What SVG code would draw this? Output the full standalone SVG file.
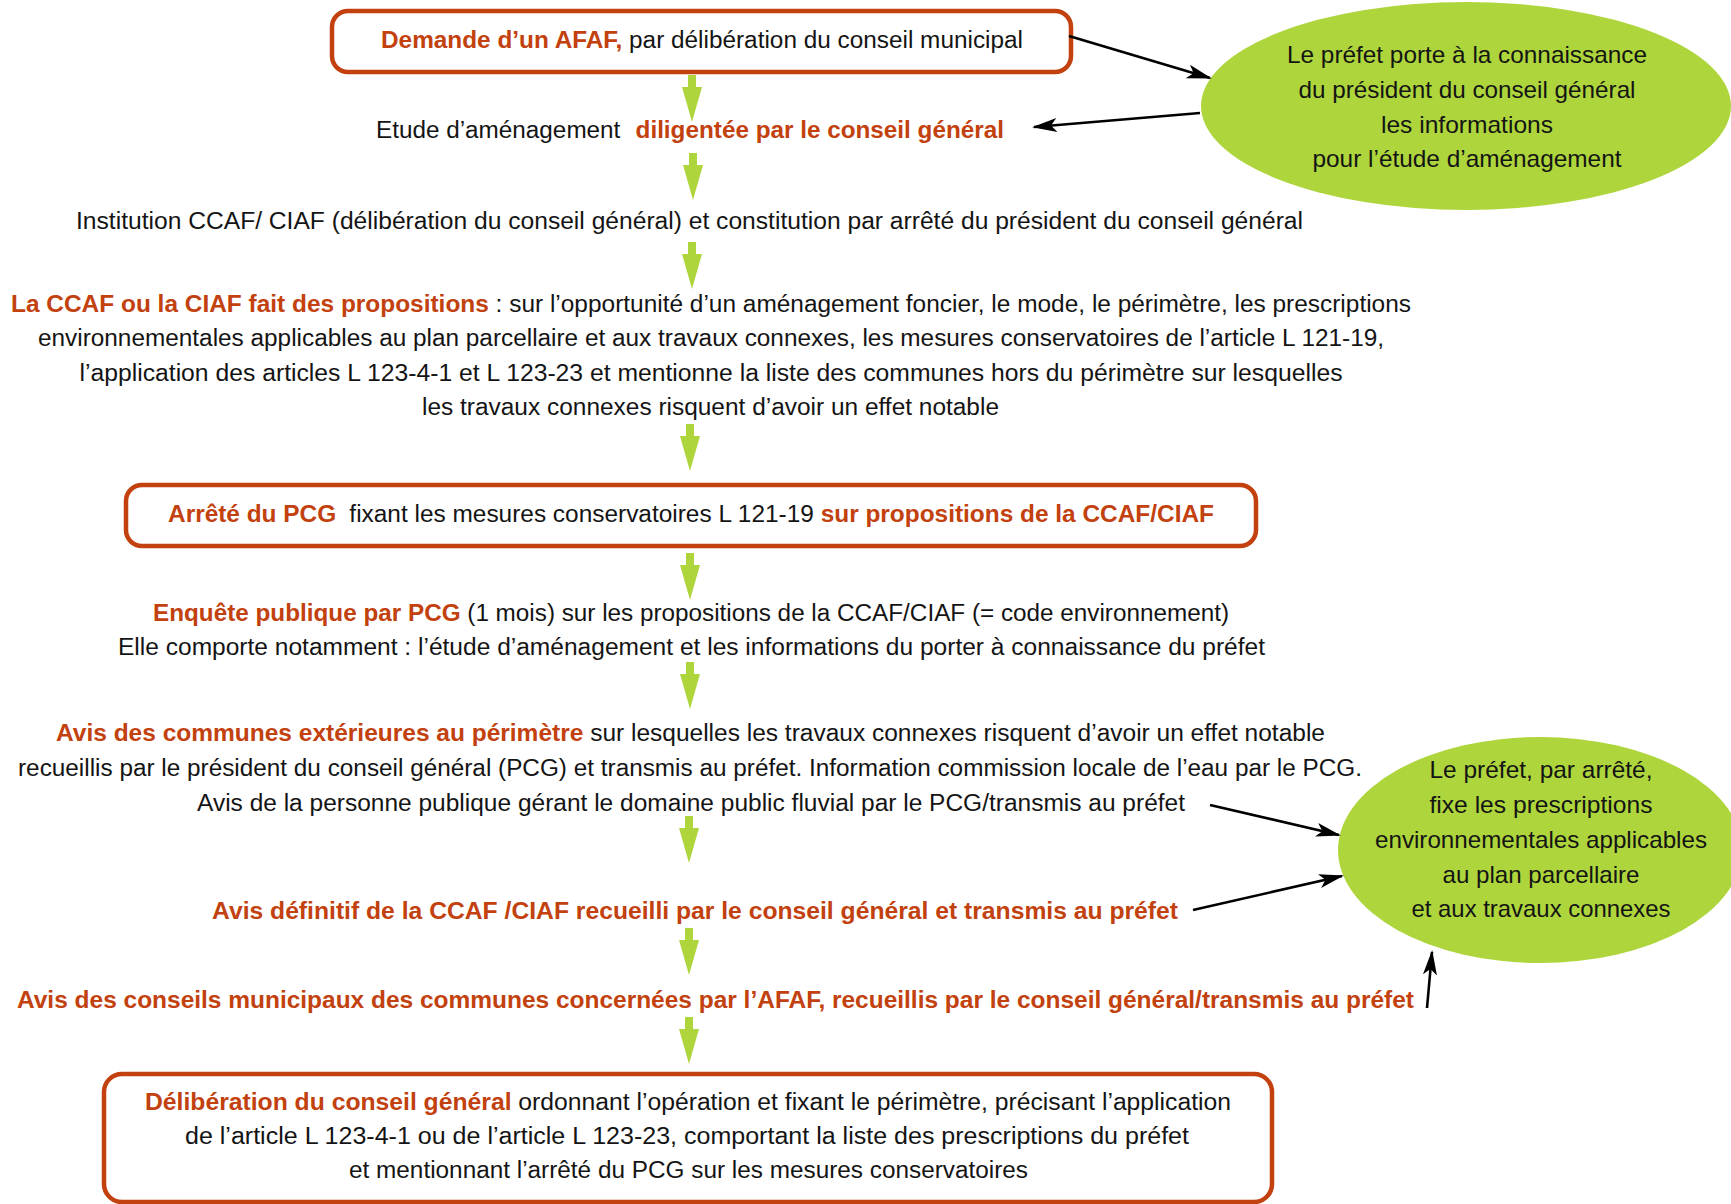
<svg xmlns="http://www.w3.org/2000/svg" xmlns:xlink="http://www.w3.org/1999/xlink" width="1731" height="1204" viewBox="0 0 1731 1204">
<style>
text{font-family:"Liberation Sans",Arial,sans-serif;fill:#141414;}
.t{font-size:23px;text-anchor:middle;}
.e{font-size:24px;text-anchor:middle;}
.b{font-weight:bold;fill:#c2410e;}
.box{fill:#fff;stroke:#c2410e;stroke-width:4.5;}
.ell{fill:#aed63c;stroke:none;}
.con{stroke:#000;stroke-width:2.6;fill:none;}
.ga{fill:#aed63c;}
</style>
<defs>
<marker id="ah" markerUnits="userSpaceOnUse" markerWidth="26" markerHeight="16" viewBox="0 0 26 16" refX="23" refY="8" orient="auto">
<path d="M0,1 L25,8 L0,15 L6,8 Z" fill="#000"/>
</marker>
<path id="garrow" d="M-4,0 H4 V12 H10 L0,47 L-10,12 H-4 Z"/>
</defs>

<g id="green-arrows" class="ga">
<use xlink:href="#garrow" x="692" y="75"/>
<use xlink:href="#garrow" x="693" y="153"/>
<use xlink:href="#garrow" x="692" y="242"/>
<use xlink:href="#garrow" x="690" y="424"/>
<use xlink:href="#garrow" x="690" y="553"/>
<use xlink:href="#garrow" x="690" y="662"/>
<use xlink:href="#garrow" x="689" y="816"/>
<use xlink:href="#garrow" x="689" y="928"/>
<use xlink:href="#garrow" x="689" y="1017"/>
</g>

<g id="n-ellipse1">
<ellipse class="ell" cx="1466" cy="106" rx="265" ry="104"/>
<text class="e" x="1467" y="63" textLength="360" lengthAdjust="spacingAndGlyphs">Le préfet porte à la connaissance</text>
<text class="e" x="1467" y="98" textLength="337" lengthAdjust="spacingAndGlyphs">du président du conseil général</text>
<text class="e" x="1467" y="133" textLength="172" lengthAdjust="spacingAndGlyphs">les informations</text>
<text class="e" x="1467" y="167" textLength="309" lengthAdjust="spacingAndGlyphs">pour l’étude d’aménagement</text>
</g>

<g id="n-ellipse2">
<ellipse class="ell" cx="1540" cy="850" rx="202" ry="113"/>
<text class="e" x="1541" y="778" textLength="223" lengthAdjust="spacingAndGlyphs">Le préfet, par arrêté,</text>
<text class="e" x="1541" y="813" textLength="223" lengthAdjust="spacingAndGlyphs">fixe les prescriptions</text>
<text class="e" x="1541" y="848" textLength="332" lengthAdjust="spacingAndGlyphs">environnementales applicables</text>
<text class="e" x="1541" y="883" textLength="197" lengthAdjust="spacingAndGlyphs">au plan parcellaire</text>
<text class="e" x="1541" y="917" textLength="259" lengthAdjust="spacingAndGlyphs">et aux travaux connexes</text>
</g>

<g id="n-demande">
<rect class="box" x="332" y="11" width="739" height="61" rx="16"/>
<text class="t" x="702" y="48" textLength="642" lengthAdjust="spacingAndGlyphs"><tspan class="b">Demande d’un AFAF,</tspan> par délibération du conseil municipal</text>
</g>

<g id="n-etude">
<text class="t" x="690" y="138" textLength="628" lengthAdjust="spacingAndGlyphs">Etude d’aménagement <tspan class="b" dx="8">diligentée par le conseil général</tspan></text>
</g>

<g id="n-institution">
<text class="t" x="689.5" y="229" textLength="1227" lengthAdjust="spacingAndGlyphs">Institution CCAF/ CIAF (délibération du conseil général) et constitution par arrêté du président du conseil général</text>
</g>

<g id="n-propositions">
<text class="t" x="711" y="312" textLength="1400" lengthAdjust="spacingAndGlyphs"><tspan class="b">La CCAF ou la CIAF fait des propositions</tspan> : sur l’opportunité d’un aménagement foncier, le mode, le périmètre, les prescriptions</text>
<text class="t" x="711" y="346" textLength="1346" lengthAdjust="spacingAndGlyphs">environnementales applicables au plan parcellaire et aux travaux connexes, les mesures conservatoires de l’article L 121-19,</text>
<text class="t" x="711" y="381" textLength="1263" lengthAdjust="spacingAndGlyphs">l’application des articles L 123-4-1 et L 123-23 et mentionne la liste des communes hors du périmètre sur lesquelles</text>
<text class="t" x="710.5" y="415" textLength="577" lengthAdjust="spacingAndGlyphs">les travaux connexes risquent d’avoir un effet notable</text>
</g>

<g id="n-arrete">
<rect class="box" x="126" y="485" width="1130" height="61" rx="16"/>
<text class="t" x="691" y="522" textLength="1046" lengthAdjust="spacingAndGlyphs"><tspan class="b">Arrêté du PCG</tspan>  <tspan dx="6">fixant les mesures conservatoires L 121-19 </tspan><tspan class="b">sur propositions de la CCAF/CIAF</tspan></text>
</g>

<g id="n-enquete">
<text class="t" x="691" y="621" textLength="1076" lengthAdjust="spacingAndGlyphs"><tspan class="b">Enquête publique par PCG</tspan> (1 mois) sur les propositions de la CCAF/CIAF (= code environnement)</text>
<text class="t" x="691.5" y="655" textLength="1147" lengthAdjust="spacingAndGlyphs">Elle comporte notamment : l’étude d’aménagement et les informations du porter à connaissance du préfet</text>
</g>

<g id="n-avis-communes">
<text class="t" x="690.5" y="741" textLength="1269" lengthAdjust="spacingAndGlyphs"><tspan class="b">Avis des communes extérieures au périmètre</tspan> sur lesquelles les travaux connexes risquent d’avoir un effet notable</text>
<text class="t" x="690" y="776" textLength="1344" lengthAdjust="spacingAndGlyphs">recueillis par le président du conseil général (PCG) et transmis au préfet. Information commission locale de l’eau par le PCG.</text>
<text class="t" x="691" y="811" textLength="988" lengthAdjust="spacingAndGlyphs">Avis de la personne publique gérant le domaine public fluvial par le PCG/transmis au préfet</text>
</g>

<g id="n-avis-definitif">
<text class="t b" x="695" y="919" textLength="966" lengthAdjust="spacingAndGlyphs">Avis définitif de la CCAF /CIAF recueilli par le conseil général et transmis au préfet</text>
</g>

<g id="n-avis-conseils">
<text class="t b" x="715.5" y="1008" textLength="1397" lengthAdjust="spacingAndGlyphs">Avis des conseils municipaux des communes concernées par l’AFAF, recueillis par le conseil général/transmis au préfet</text>
</g>

<g id="n-deliberation">
<rect class="box" x="104" y="1074" width="1168" height="128" rx="18"/>
<text class="t" x="688" y="1110" textLength="1086" lengthAdjust="spacingAndGlyphs"><tspan class="b">Délibération du conseil général</tspan> ordonnant l’opération et fixant le périmètre, précisant l’application</text>
<text class="t" x="687" y="1144" textLength="1004" lengthAdjust="spacingAndGlyphs">de l’article L 123-4-1 ou de l’article L 123-23, comportant la liste des prescriptions du préfet</text>
<text class="t" x="688.5" y="1178" textLength="679" lengthAdjust="spacingAndGlyphs">et mentionnant l’arrêté du PCG sur les mesures conservatoires</text>
</g>

<g id="connectors">
<line class="con" x1="1069" y1="36" x2="1210" y2="78" marker-end="url(#ah)"/>
<line class="con" x1="1200" y1="113" x2="1034" y2="127" marker-end="url(#ah)"/>
<line class="con" x1="1210" y1="805" x2="1339" y2="835" marker-end="url(#ah)"/>
<line class="con" x1="1193" y1="910" x2="1342" y2="876" marker-end="url(#ah)"/>
<line class="con" x1="1427" y1="1008" x2="1432" y2="952" marker-end="url(#ah)"/>
</g>
</svg>
